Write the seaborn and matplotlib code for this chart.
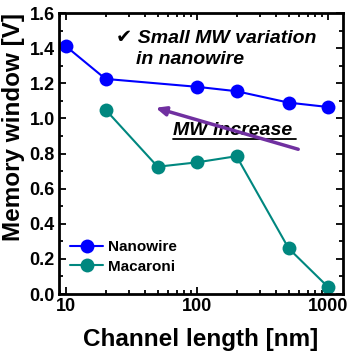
import matplotlib
matplotlib.use("Agg")
import matplotlib.pyplot as plt
import seaborn as sns
import pandas as pd
from matplotlib.ticker import MultipleLocator, LogLocator, NullFormatter

sns.set_theme(style="ticks")
plt.rcParams['font.family'] = ['Liberation Sans', 'DejaVu Sans']
plt.rcParams['font.weight'] = 'bold'
plt.rcParams['text.color'] = 'black'
plt.rcParams['axes.labelcolor'] = 'black'
plt.rcParams['xtick.color'] = 'black'
plt.rcParams['ytick.color'] = 'black'

nanowire_L = [10, 20, 100, 200, 500, 1000]
nanowire_MW = [1.41, 1.225, 1.18, 1.155, 1.09, 1.065]
macaroni_L = [20, 50, 100, 200, 500, 1000]
macaroni_MW = [1.05, 0.725, 0.75, 0.785, 0.26, 0.04]
series_names = ["Nanowire", "Macaroni"]
colors = ["#0000FF", "#00877F"]

df = pd.DataFrame({
    "L": nanowire_L + macaroni_L,
    "MW": nanowire_MW + macaroni_MW,
    "type": [series_names[0]] * len(nanowire_L) + [series_names[1]] * len(macaroni_L),
})

fig = plt.figure(figsize=(3.5, 3.53), dpi=100)
ax = fig.add_axes([0.169, 0.167, 0.811, 0.796])

sns.lineplot(data=df, x="L", y="MW", hue="type", palette=colors, marker="o",
             markersize=10, markeredgewidth=0, linewidth=1.5, ax=ax, legend=False)

ax.set_xscale("log")
ax.set_xlim(8.85, 1300)
ax.set_ylim(0, 1.6)
ax.set_xticks([10, 100, 1000])
ax.set_xticklabels(["10", "100", "1000"])
ax.xaxis.set_minor_locator(LogLocator(base=10, subs=range(2, 10)))
ax.xaxis.set_minor_formatter(NullFormatter())
ax.yaxis.set_major_locator(MultipleLocator(0.2))
ax.yaxis.set_minor_locator(MultipleLocator(0.1))
ax.set_yticks([0.0, 0.2, 0.4, 0.6, 0.8, 1.0, 1.2, 1.4, 1.6])
ax.set_yticklabels(["0.0", "0.2", "0.4", "0.6", "0.8", "1.0", "1.2", "1.4", "1.6"])

ax.tick_params(which="both", direction="in", top=True, right=True, width=1.3, colors="black")
ax.tick_params(which="major", length=5, labelsize=13, pad=3)
ax.tick_params(which="minor", length=3)
for lab in ax.get_xticklabels() + ax.get_yticklabels():
    lab.set_fontweight("bold")
for s in ax.spines.values():
    s.set_linewidth(2)
    s.set_color("black")

ax.set_xlabel("Channel length [nm]", fontsize=17.5, fontweight="bold")
ax.set_ylabel("Memory window [V]", fontsize=17.5, fontweight="bold")
ax.xaxis.set_label_coords(0.5, -0.12)
ax.yaxis.set_label_coords(-0.12, 0.594)

handles = [plt.Line2D([], [], color=c, marker="o", markersize=10, markeredgewidth=0, linewidth=1.5)
           for c in colors]
ax.legend(handles, series_names, loc="lower left", bbox_to_anchor=(0.0, 0.035), frameon=False,
          prop={"size": 11, "weight": "bold"}, handlelength=2.2, handletextpad=0.3,
          labelspacing=0.35, borderaxespad=0.3)

ax.text(0.2, 0.895, "\u2714 Small MW variation", transform=ax.transAxes, fontsize=14,
        fontweight="bold", fontstyle="italic", ha="left", va="baseline")
ax.text(0.27, 0.82, "in nanowire", transform=ax.transAxes, fontsize=14,
        fontweight="bold", fontstyle="italic", ha="left", va="baseline")
ax.text(0.40, 0.565, "MW increase", transform=ax.transAxes, fontsize=14,
        fontweight="bold", fontstyle="italic", ha="left", va="baseline")
ax.plot([0.40, 0.835], [0.553, 0.553], transform=ax.transAxes, color="black", linewidth=1.3)

ax.annotate("", xy=(46, 1.065), xytext=(620, 0.82),
            arrowprops=dict(arrowstyle="-|>,head_length=0.5,head_width=0.22",
                            color="#7030A0", linewidth=2.5))

fig.savefig("out.png", dpi=100)
